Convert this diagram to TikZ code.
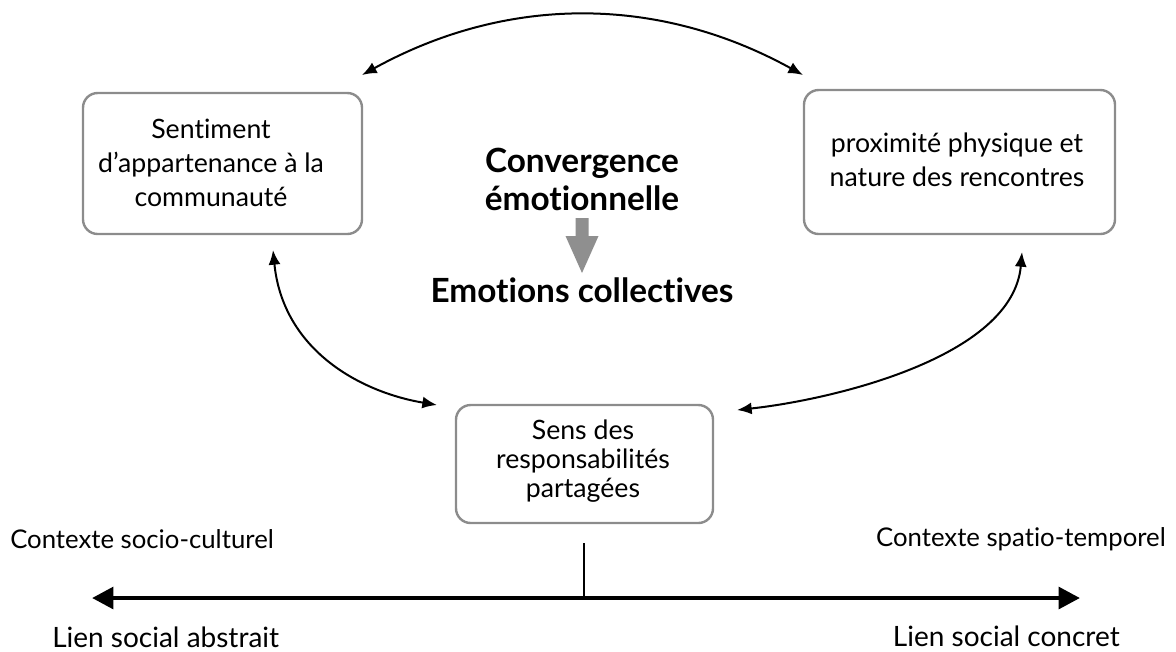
\documentclass[tikz,border=0pt]{standalone}
\usepackage{fontspec}
\setmainfont{Lato}[Ligatures=NoCommon]
\usetikzlibrary{arrows.meta}
\definecolor{boxgray}{HTML}{8C8C8C}
\definecolor{arrgray}{HTML}{8F8F8F}
\begin{document}
\begin{tikzpicture}[x=0.75pt,y=-0.75pt,
  box/.style={draw=boxgray,line width=1.8pt,rounded corners=11pt,inner sep=0pt},
  txt/.style={font=\fontsize{20}{25.5}\selectfont,align=center,inner sep=0pt},
  big/.style={font=\fontsize{25}{28.5}\selectfont\bfseries,align=center,inner sep=0pt},
  small/.style={font=\fontsize{19.3}{21}\selectfont,inner sep=0pt},
  lab/.style={font=\fontsize{21}{24}\selectfont,inner sep=0pt},
  link/.style={line width=1.5pt,{Latex[length=11pt,width=9pt]}-{Latex[length=11pt,width=9pt]}},
  axis/.style={line width=3.5pt,{Triangle[length=16pt,width=16pt]}-{Triangle[length=16pt,width=16pt]}}]
\useasboundingbox (0,0) rectangle (1176,651);
% boxes
\draw[box] (83,93) rectangle (362,234);
\node (lb) at (222.5,163) {};
\draw[box] (804,90) rectangle (1115,234);
\node (rb) at (959.5,162) {};
\draw[box] (456,405) rectangle (713,523);
\node (bb) at (584.5,464) {};
% box texts
\node[txt] (lt) at (211,163) {Sentiment\\d’appartenance à la\\communauté};
\node[txt] (rt) at (957,160) {proximité physique et\\nature des rencontres};
\node[txt,font=\fontsize{20}{21.8}\selectfont] (bt) at (583,461) {Sens des\\responsabilités\\partagées};
% centre
\node[big] (conv) at (582,179) {Convergence\\émotionnelle};
\node[big] (emo) at (582,290) {Emotions collectives};
\fill[arrgray] (575.5,218) -- (588.5,218) -- (588.5,236) -- (598.5,236) -- (582,273) -- (565.5,236) -- (575.5,236) -- cycle;
% curved links
\coordinate (t1) at (362,75);
\coordinate (t2) at (803,75);
\draw[link] (t1) .. controls (507,-5) and (658,-5) .. (t2);
\coordinate (l1) at (273,250);
\coordinate (l2) at (437,405);
\draw[link] (l1) .. controls (283,350) and (360,392) .. (l2);
\coordinate (r1) at (1022,252);
\coordinate (r2) at (737,410);
\draw[link] (r1) .. controls (1013,358) and (830,400) .. (r2);
% axis
\coordinate (al) at (92,598);
\coordinate (ar) at (1080,598);
\coordinate (am) at (584,598);
\coordinate (vt) at (584,543);
\draw[axis] (al) -- (ar);
\draw[line width=0.8pt] (vt) -- (am);
% labels
\node[small,anchor=west] (c1) at (10,539) {Contexte socio-culturel};
\node[small,anchor=east] (c2) at (1166,539) {Contexte spatio-temporel};
\node[lab,anchor=west] (l1t) at (52,637) {Lien social abstrait};
\node[lab,anchor=east] (l2t) at (1120,636) {Lien social concret};
\end{tikzpicture}
\end{document}
